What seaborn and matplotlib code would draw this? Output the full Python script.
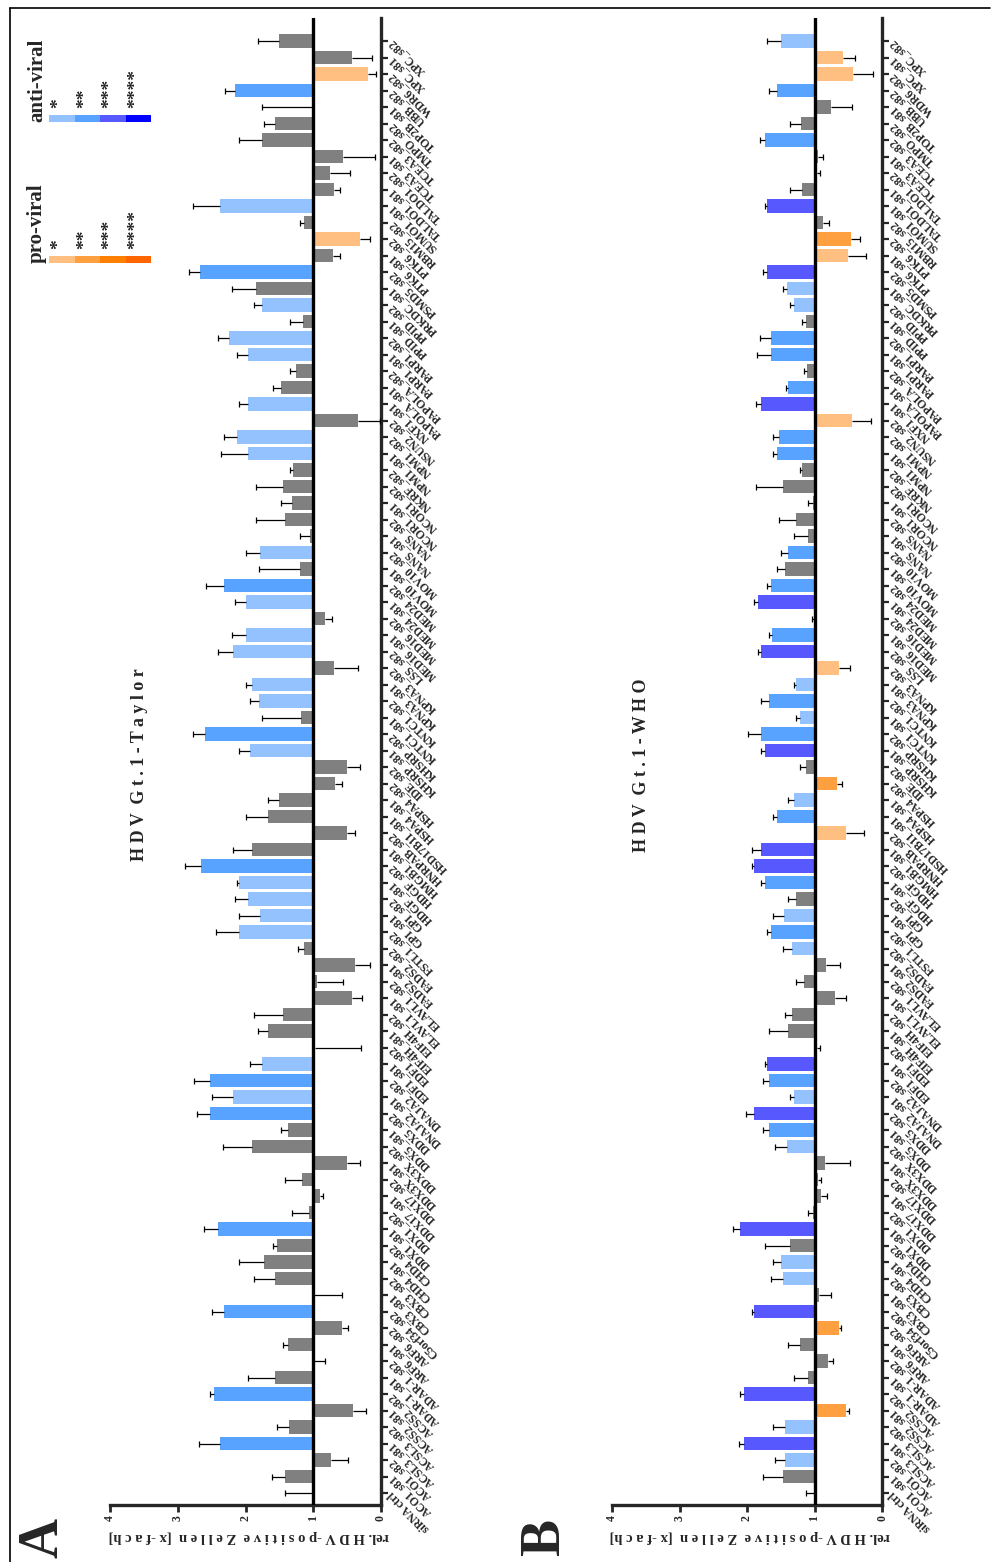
import numpy as np
import pandas as pd
import matplotlib.pyplot as plt
import seaborn as sns
from matplotlib.patches import Rectangle
from matplotlib.lines import Line2D

sns.set_style('ticks')
plt.rcParams['font.family'] = ['Liberation Serif', 'DejaVu Serif']
plt.rcParams['font.weight'] = 'bold'

W, H = 992, 1562

# siRNA targets, bottom (ctrl) to top
labels = ['siRNA ctrl', 'ACO1_s81', 'ACO1_s82', 'ACSL3_s81', 'ACSL3_s82', 'ACSS2_s81', 'ACSS2_s82',
          'ADAR-1_s81', 'ADAR-1_s82', 'ARF6_s81', 'ARF6_s82', 'C5orf34_s82', 'CBX3_s81', 'CBX3_s82',
          'CHD4_s81', 'CHD4_s82', 'DDX1_s81', 'DDX1_s82', 'DDX17_s81', 'DDX17_s82', 'DDX3X_s81',
          'DDX3X_s82', 'DDX5_s81', 'DDX5_s82', 'DNAJA2_s81', 'DNAJA2_s82', 'EDF1_s81', 'EDF1_s82',
          'EIF4H_s81', 'EIF4H_s82', 'ELAVL1_s81', 'ELAVL1_s82', 'FADS2_s81', 'FADS2_s82', 'FSTL1_s82',
          'GPI_s81', 'GPI_s82', 'HDGF_s81', 'HDGF_s82', 'HMGB1_s81', 'HNRPAB_s82', 'HSD17B11_s81',
          'HSPA4_s81', 'HSPA4_s82', 'IDE_s82', 'KHSRP_s81', 'KHSRP_s82', 'KNTC1_s81', 'KNTC1_s82',
          'KPNA3_s81', 'KPNA3_s82', 'LSS_s82', 'MED16_s81', 'MED16_s82', 'MED24_s81', 'MED24_s82',
          'MOV10_s81', 'MOV10_s82', 'NANS_s81', 'NANS_s82', 'NCOR1_s81', 'NCOR1_s82', 'NKRF_s82',
          'NPM1_s81', 'NPM1_s82', 'NSUN2_s82', 'NXF1_s81', 'PAPOLA_s81', 'PAPOLA_s82', 'PARP1_s81',
          'PARP1_s82', 'PPID_s81', 'PPID_s82', 'PRKDC_s81', 'PSMD5_s82', 'PTK6_s81', 'PTK6_s82',
          'RBM15_s82', 'SUMO1_s81', 'TALDO1_s81', 'TALDO1_s82', 'TCEA3_s81', 'TCEA3_s82', 'TMPO_s82',
          'TOP2B_s81', 'UBB_s82', 'WDR6_s82', 'XPC_s81', 'XPC_s82']

# panel A: HDV Gt.1-Taylor
vals_a = [1.00, 1.42, 0.74, 2.37, 1.36, 0.41, 2.46, 1.57, 0.99, 1.38,
          0.58, 2.31, 0.99, 1.56, 1.73, 1.54, 2.40, 1.07, 0.90, 1.17,
          0.50, 1.91, 1.38, 2.53, 2.18, 2.52, 1.75, 0.98, 1.67, 1.44,
          0.43, 0.94, 0.39, 1.14, 2.09, 1.79, 1.97, 2.09, 2.65, 1.91,
          0.50, 1.67, 1.50, 0.68, 0.50, 1.94, 2.60, 1.18, 1.80, 1.90,
          0.70, 2.18, 2.00, 0.83, 2.00, 2.31, 1.20, 1.79, 1.05, 1.42,
          1.32, 1.45, 1.30, 1.96, 2.13, 0.34, 1.97, 1.47, 1.26, 1.96,
          2.24, 1.15, 1.76, 1.85, 2.67, 0.71, 0.31, 1.14, 2.38, 0.70,
          0.75, 0.56, 1.76, 1.57, 1.00, 2.15, 0.19, 0.43, 1.50]
sd_a = [0.41, 0.19, 0.25, 0.31, 0.18, 0.19, 0.07, 0.40, 0.16, 0.07,
        0.09, 0.19, 0.41, 0.32, 0.36, 0.06, 0.21, 0.25, 0.04, 0.25,
        0.19, 0.42, 0.09, 0.18, 0.32, 0.24, 0.19, 0.69, 0.15, 0.44,
        0.15, 0.38, 0.23, 0.09, 0.35, 0.30, 0.18, 0.04, 0.24, 0.27,
        0.11, 0.32, 0.17, 0.10, 0.19, 0.15, 0.18, 0.58, 0.14, 0.10,
        0.36, 0.23, 0.20, 0.10, 0.16, 0.27, 0.60, 0.21, 0.15, 0.43,
        0.15, 0.40, 0.05, 0.40, 0.18, 0.33, 0.12, 0.13, 0.09, 0.17,
        0.17, 0.20, 0.11, 0.35, 0.16, 0.11, 0.15, 0.06, 0.40, 0.09,
        0.29, 0.47, 0.33, 0.15, 0.75, 0.15, 0.12, 0.30, 0.32]
sig_a = ('n n n a2 n n a2 n n n '
         'n a2 n n n n a2 n n n '
         'n n n a2 a1 a2 a1 n n n '
         'n n n n a1 a1 a1 a1 a2 n '
         'n n n n n a1 a2 n a1 a1 '
         'n a1 a1 n a1 a2 n a1 n n '
         'n n n a1 a1 n a1 n n a1 '
         'a1 n a1 n a2 n p1 n a1 n '
         'n n n n n a2 p1 n n').split()

# panel B: HDV Gt.1-WHO
vals_b = [1.00, 1.47, 1.43, 2.04, 1.43, 0.54, 2.05, 1.10, 0.80, 1.22,
          0.64, 1.89, 0.93, 1.47, 1.49, 1.37, 2.10, 1.02, 0.90, 0.95,
          0.85, 1.41, 1.67, 1.89, 1.30, 1.67, 1.70, 0.97, 1.40, 1.33,
          0.70, 1.16, 0.83, 1.34, 1.64, 1.45, 1.27, 1.73, 1.89, 1.79,
          0.54, 1.55, 1.31, 0.66, 1.13, 1.74, 1.80, 1.22, 1.67, 1.28,
          0.63, 1.79, 1.63, 1.00, 1.83, 1.64, 1.43, 1.39, 1.09, 1.27,
          1.02, 1.47, 1.18, 1.55, 1.53, 0.45, 1.79, 1.39, 1.11, 1.65,
          1.64, 1.13, 1.30, 1.41, 1.70, 0.51, 0.46, 0.88, 1.70, 1.19,
          0.97, 0.95, 1.73, 1.20, 0.75, 1.55, 0.43, 0.58, 1.49]
sd_b = [0.12, 0.30, 0.16, 0.08, 0.18, 0.05, 0.05, 0.20, 0.07, 0.17,
        0.03, 0.04, 0.18, 0.17, 0.13, 0.37, 0.11, 0.08, 0.08, 0.05,
        0.38, 0.18, 0.09, 0.13, 0.07, 0.09, 0.04, 0.05, 0.27, 0.10,
        0.16, 0.11, 0.21, 0.12, 0.06, 0.17, 0.13, 0.06, 0.04, 0.13,
        0.27, 0.07, 0.09, 0.06, 0.09, 0.05, 0.19, 0.05, 0.12, 0.03,
        0.16, 0.05, 0.04, 0.04, 0.06, 0.06, 0.13, 0.10, 0.21, 0.25,
        0.08, 0.39, 0.04, 0.06, 0.08, 0.29, 0.07, 0.03, 0.04, 0.20,
        0.17, 0.05, 0.07, 0.06, 0.07, 0.27, 0.13, 0.10, 0.04, 0.17,
        0.05, 0.07, 0.08, 0.16, 0.31, 0.12, 0.30, 0.18, 0.22]
sig_b = ('n n a1 a3 a1 p2 a3 n n n '
         'p2 a3 n a1 a1 n a3 n n n '
         'n a1 a2 a3 a1 a2 a3 n n n '
         'n n n a1 a2 a1 n a2 a3 a3 '
         'p1 a2 a1 p2 n a3 a2 a1 a2 a1 '
         'p1 a3 a2 n a3 a2 n a2 n n '
         'n n n a2 a2 p1 a3 a2 n a2 '
         'a2 n a1 a1 a3 p1 p2 n a3 n '
         'n n a2 n n a2 p1 p1 a1').split()

colors = {'n': '#808080',
          'a1': '#94C2FF', 'a2': '#57A3FF', 'a3': '#5858FF', 'a4': '#0000FF',
          'p1': '#FFBF80', 'p2': '#FFA040', 'p3': '#FF8000', 'p4': '#FF6600'}


def fx(x):
    return x / W


def fy(y):
    return 1 - y / H


fig = plt.figure(figsize=(W / 100, H / 100), dpi=100)

Y_TOP, Y_BOT, Y_FIRST, Y_LAST = 18, 1505, 41, 1493
step = (Y_LAST - Y_FIRST) / (len(labels) - 1)


def panel(x_left, x_zero, vals, sds, sigs, title, title_x, letter, letter_x):
    ax = fig.add_axes([fx(x_left), fy(Y_BOT), (x_zero - x_left) / W, (Y_BOT - Y_TOP) / H])
    order = labels[::-1]
    df = pd.DataFrame({'label': labels, 'delta': np.array(vals) - 1, 'sig': sigs})
    sns.barplot(data=df, x='delta', y='label', hue='sig', palette=colors, order=order,
                orient='y', dodge=False, errorbar=None, legend=False, width=0.8,
                saturation=1, left=1, linewidth=0, ax=ax)

    # one-sided error bars away from baseline 1
    pos = np.array([order.index(l) for l in labels])
    v = np.array(vals)
    s = np.array(sds)
    end = np.where(v >= 1, v + s, v - s)
    ax.hlines(pos, v, end, color='black', lw=0.9, zorder=3)
    ax.plot(end, pos, '|', color='black', ms=4.5, mew=0.9, zorder=3)
    ax.axvline(1, color='black', lw=2.4, zorder=4)

    ax.set_xlim(4, 0)
    ax.set_ylim(len(labels) - 1 + (Y_BOT - Y_LAST) / step, -(Y_FIRST - Y_TOP) / step)
    sns.despine(ax=ax, top=True, left=True, right=False, bottom=False)
    for sp in ('right', 'bottom'):
        ax.spines[sp].set_linewidth(2.4)
    ax.yaxis.tick_right()
    ax.tick_params(axis='y', length=5, width=1.6, pad=2, labelsize=8.5)
    ax.tick_params(axis='x', length=5, width=2, pad=2, labelsize=8.5)
    ax.set_xticks([0, 1, 2, 3, 4])
    ax.set_xticklabels(['0', '1', '2', '3', '4'], rotation=90)
    for t in ax.get_yticklabels():
        t.set_rotation(135)
        t.set_ha('right')
        t.set_va('center')
        t.set_rotation_mode('anchor')
    ax.set_xlabel('')
    ax.set_ylabel('')

    fig.text(fx(title_x), fy(765), title, rotation=90, ha='center', va='center', fontsize=13)
    fig.text(fx((x_left + x_zero) / 2 + 3), fy(1537),
             'rel. H D V -p o s i t i v e  Z e l l e n  [x -f a c h]',
             rotation=180, ha='center', va='center', fontsize=10.5)
    fig.text(fx(letter_x), fy(1538), letter, rotation=90, ha='center', va='center', fontsize=40)
    return ax


panel(110, 381, vals_a, sd_a, sig_a, 'H D V  G t . 1 - T a y l o r', 140, 'A', 43)
panel(612, 882, vals_b, sd_b, sig_b, 'H D V  G t . 1 - W H O', 642, 'B', 545)

# legend strips
seg = 25.5
for name, y_strip, keys in [('anti-viral', 115, ['a1', 'a2', 'a3', 'a4']),
                            ('pro-viral', 256, ['p1', 'p2', 'p3', 'p4'])]:
    fig.text(fx(37), fy(y_strip + 7), name, rotation=90, ha='center', va='bottom', fontsize=15)
    for i, k in enumerate(keys):
        fig.add_artist(Rectangle((fx(49 + i * seg), fy(y_strip + 7)), seg / W, 7 / H,
                                 color=colors[k], transform=fig.transFigure, lw=0))
        fig.text(fx(59 + i * seg), fy(y_strip - 7), '*' * (i + 1), rotation=90,
                 ha='center', va='bottom', fontsize=14)

# frame
fig.add_artist(Line2D([fx(10), fx(10)], [fy(8), 0], transform=fig.transFigure, color='black', lw=1.2))
fig.add_artist(Line2D([fx(10), fx(990)], [fy(8), fy(8)], transform=fig.transFigure, color='black', lw=1.2))

fig.savefig('out.png', dpi=100)
